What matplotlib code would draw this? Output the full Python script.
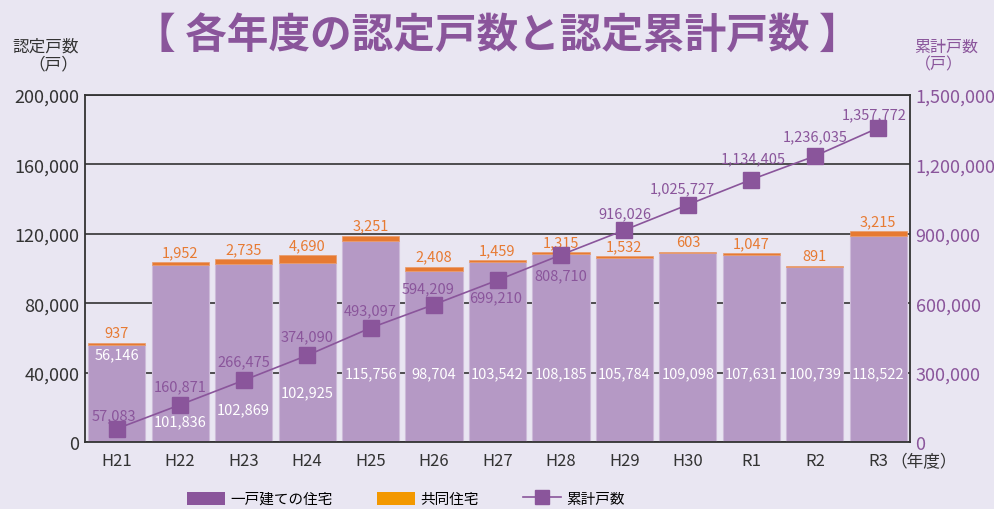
import numpy as np
import matplotlib
matplotlib.use('Agg')
import matplotlib.pyplot as plt
from matplotlib.patches import Patch
from matplotlib.lines import Line2D
from matplotlib.ticker import FuncFormatter

plt.rcParams['font.family'] = ['Noto Sans CJK JP', 'DejaVu Sans']

####################################################################################################

years = ['H21', 'H22', 'H23', 'H24', 'H25', 'H26', 'H27', 'H28', 'H29', 'H30', 'R1', 'R2', 'R3']
detached = [56146, 101836, 102869, 102925, 115756, 98704, 103542, 108185, 105784, 109098, 107631, 100739, 118522]
collective = [937, 1952, 2735, 4690, 3251, 2408, 1459, 1315, 1532, 603, 1047, 891, 3215]
cumulative = [57083, 160871, 266475, 374090, 493097, 594209, 699210, 808710, 916026, 1025727, 1134405, 1236035, 1357772]

# label placement (styling only)
detached_label_y = [50700, 12100, 19000, 28800, 39500, 39500, 39500, 39500, 39500, 39500, 39500, 39500, 39500]
cum_label_offset = [(-2, 10), (0, 13), (0, 14), (0, 14), (0, 13), (-4, 12), (-1, -12), (0, -15),
                    (0, 12), (-4, 12), (1, 15), (0, 14), (-3, 10)]

bg = '#e9e6f2'
purple = '#8a559b'
bar_purple = '#b599c5'
orange_bar = '#e77a32'
orange_legend = '#f39800'
dark = '#333333'

####################################################################################################

fig = plt.figure(figsize=(9.95, 5.10), dpi=100, facecolor=bg)
ax = fig.add_axes([0.0854, 0.1314, 0.8292, 0.6804])
ax.set_facecolor(bg)

x = np.arange(len(years))
ax.bar(x, detached, width=0.9, color=bar_purple, edgecolor='#cdbbd9', linewidth=0.8, zorder=2)
ax.bar(x, collective, bottom=detached, width=0.9, color=orange_bar, edgecolor='#e99a6a', linewidth=0.5, zorder=2)

ax.set_xlim(-0.5, len(years) - 0.5)
ax.set_ylim(0, 200000)
ax.set_yticks(np.arange(0, 200001, 40000))
ax.yaxis.set_major_formatter(FuncFormatter(lambda v, p: f'{int(v):,}'))
ax.set_xticks(x)
ax.set_xticklabels(years)
ax.tick_params(axis='y', length=0, pad=4, labelsize=13, labelcolor=dark)
ax.tick_params(axis='x', length=0, pad=7, labelsize=12, labelcolor=dark)
ax.grid(axis='y', color=dark, linewidth=1.2, zorder=1)
ax.set_axisbelow(True)
for s in ax.spines.values():
    s.set_color(dark)
    s.set_linewidth(1.3)

for i in range(len(years)):
    ax.text(x[i], detached_label_y[i], f'{detached[i]:,}', ha='center', va='center',
            color='white', fontsize=10.5, zorder=3)
    ax.annotate(f'{collective[i]:,}', (x[i], detached[i] + collective[i]), xytext=(0, 2),
                textcoords='offset points', ha='center', va='bottom',
                color=orange_bar, fontsize=10.5, zorder=3)

ax.annotate('（年度）', (1.0, 0), xycoords='axes fraction', xytext=(-14, -14),
            textcoords='offset points', ha='left', va='center', fontsize=12, color=dark)

ax2 = ax.twinx()
ax2.patch.set_visible(False)
ax2.plot(x, cumulative, color=purple, linewidth=1.2, marker='s', markersize=11, zorder=4)
ax2.set_ylim(0, 1500000)
ax2.set_yticks(np.arange(0, 1500001, 300000))
ax2.yaxis.set_major_formatter(FuncFormatter(lambda v, p: f'{int(v):,}'))
ax2.tick_params(axis='y', length=0, pad=4, labelsize=13, labelcolor=purple)
for s in ax2.spines.values():
    s.set_visible(False)

for i in range(len(years)):
    dx, dy = cum_label_offset[i]
    ax2.annotate(f'{cumulative[i]:,}', (x[i], cumulative[i]), xytext=(dx, dy),
                 textcoords='offset points', ha='center', va='center',
                 color=purple, fontsize=10.5, zorder=5)

fig.text(0.5, 0.93, '【 各年度の認定戸数と認定累計戸数 】', ha='center', va='center',
         fontsize=30, fontweight='bold', color=purple)
fig.text(0.079, 0.89, '認定戸数\n（戸）', ha='right', va='center', fontsize=12,
         color=dark, multialignment='right', linespacing=1.1)
fig.text(0.919, 0.89, '累計戸数\n（戸）', ha='left', va='center', fontsize=11.5,
         color=purple, multialignment='left', linespacing=1.1)

handles = [Patch(facecolor=purple, label='一戸建ての住宅'),
           Patch(facecolor=orange_legend, label='共同住宅'),
           Line2D([0], [0], color=purple, marker='s', markersize=10, linewidth=1.2, label='累計戸数')]
fig.legend(handles=handles, loc='center', bbox_to_anchor=(0.408, 0.02), ncol=3, frameon=False,
           fontsize=10.5, handlelength=2.6, handleheight=1.0, columnspacing=3.0, handletextpad=0.4)

fig.savefig('out.png', dpi=100, facecolor=bg)
